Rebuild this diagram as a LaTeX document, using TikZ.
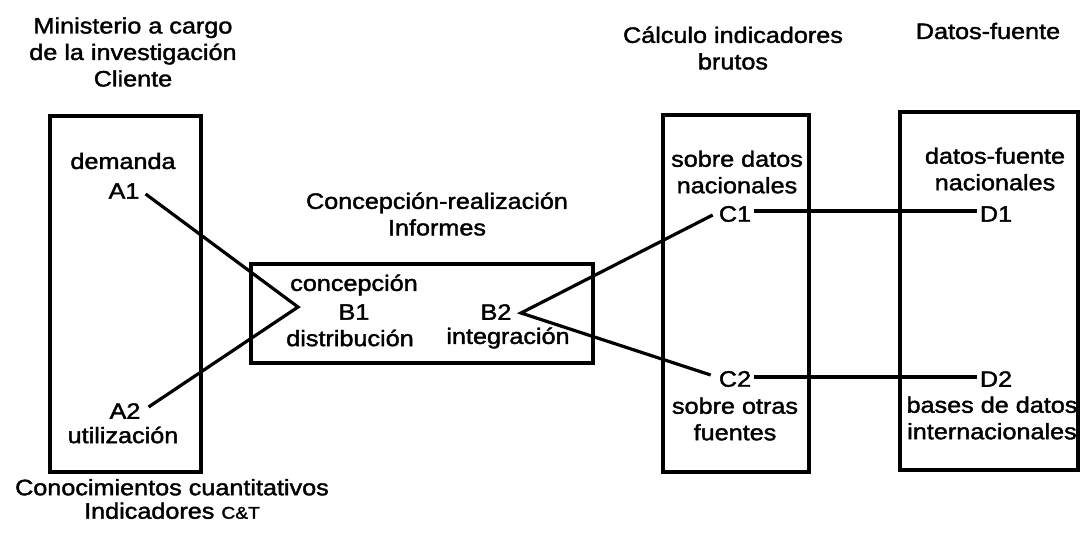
\documentclass[tikz,border=0pt]{standalone}
\usepackage{fontspec}
\usepackage{graphicx}
\setmainfont{Liberation Sans}[FakeBold=1.6]
\usetikzlibrary{calc}
\newcommand\hs[1]{\scalebox{1.13}[1]{#1}}
\tikzset{
  txt/.style={font=\fontsize{22.3}{26.5}\selectfont, align=center, inner sep=0pt},
  idlab/.style={font=\fontsize{22.3}{26.5}\selectfont, inner sep=3pt},
  frame/.style={draw, line width=3.2pt},
  conn/.style={line width=3.2pt}
}
\begin{document}
\begin{tikzpicture}[x=1pt,y=-1pt]
\useasboundingbox[fill=white] (0,0) rectangle (1082,552);

% boxes
\draw[frame] (50,116) rectangle (201,472);
\draw[frame] (251,264) rectangle (593,363);
\draw[frame] (663,115) rectangle (809,472);
\draw[frame] (900,112) rectangle (1078,470);

% titles
\node[txt] (tA) at (133,52) {\hs{Ministerio a cargo}\\\hs{de la investigación}\\\hs{Cliente}};
\node[txt] (tB) at (437,214) {\hs{Concepción-realización}\\\hs{Informes}};
\node[txt] (tC) at (733,48) {\hs{Cálculo indicadores}\\\hs{brutos}};
\node[txt] (tD) at (988,31) {\hs{Datos-fuente}};
\node[txt] (tE) at (172,499) {\hs{Conocimientos cuantitativos}\\[-3pt]\hs{Indicadores {\fontsize{17}{17}\selectfont C\&T}}};

% A column
\node[txt] (dem) at (123,161) {\hs{demanda}};
\node[idlab] (A1) at (124,191) {\hs{A1}};
\node[idlab] (A2) at (125,411) {\hs{A2}};
\node[txt] (uti) at (123,435) {\hs{utilización}};

% B box
\node[txt] (conc) at (354,285) {\hs{concepción}};
\node[idlab] (B1) at (354,312) {\hs{B1}};
\node[txt] (dist) at (350,338) {\hs{distribución}};
\node[idlab] (B2) at (496,312) {\hs{B2}};
\node[txt] (integ) at (508,338) {\hs{integración}};
\coordinate (tipA) at (298,307);
\coordinate (tipC) at (521,313);

% C column
\node[txt] (cN) at (737,172) {\hs{sobre datos}\\\hs{nacionales}};
\node[idlab] (C1) at (735,214) {\hs{C1}};
\node[idlab] (C2) at (735,379) {\hs{C2}};
\node[txt] (cO) at (735,419) {\hs{sobre otras}\\\hs{fuentes}};

% D column
\node[txt] (dN) at (995,169) {\hs{datos-fuente}\\\hs{nacionales}};
\node[idlab] (D1) at (996,214) {\hs{D1}};
\node[idlab] (D2) at (996,379) {\hs{D2}};
\node[txt] (dI) at (992,418) {\hs{bases de datos}\\\hs{internacionales}};

% connectors
\draw[conn] ($(A1.east)+(3,3)$) -- (tipA) -- ($(A2.east)+(5,-4)$);
\draw[conn] ($(C1.west)+(-3,1)$) -- (tipC) -- ($(C2.west)+(-5,-4)$);
\draw[conn] ([yshift=3pt]C1.east) -- ([yshift=3pt]D1.west);
\draw[conn] ([yshift=2pt]C2.east) -- ([yshift=2pt]D2.west);
\end{tikzpicture}
\end{document}
